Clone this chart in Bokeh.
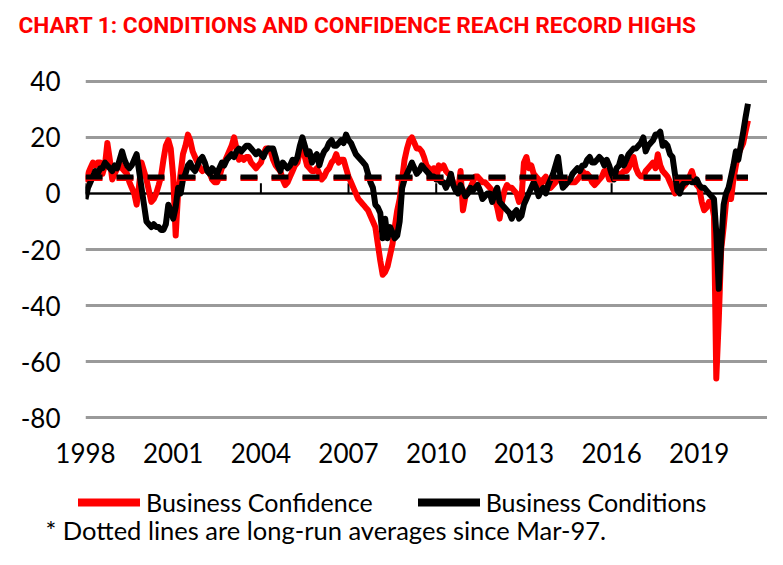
import pandas as pd
from bokeh.plotting import figure
from bokeh.layouts import column
from bokeh.models import (Range1d, FixedTicker, DatetimeTickFormatter, Title,
                          Legend, LegendItem, Span, Label)
from bokeh.embed import file_html
from bokeh.resources import INLINE

# ---------------- data ----------------
start_month = "1998-08-01"          # first monthly observation
x_end = "2021-12-01"                # right edge of the plot area

# NAB Business Conditions (net balance), monthly from Aug-1998 to Apr-2021
conditions = [
    -2, 2, 4, 6, 8,                                  # 1998 Aug-Dec
    7, 9, 9, 11, 10, 9, 8, 10, 9, 12, 15, 12,        # 1999
    10, 9, 10, 12, 14, 8, 2, -4, -10, -11, -12, -11,  # 2000
    -12, -12, -13, -13, -11, -4, -6, -9, -5, 2, 0, 5,  # 2001
    7, 10, 11, 9, 8, 10, 12, 13, 11, 8, 7, 9,        # 2002
    8, 7, 9, 11, 10, 12, 13, 14, 13, 15, 16, 15,     # 2003
    16, 17, 17, 16, 15, 14, 15, 14, 13, 15, 16, 16,  # 2004
    16, 13, 10, 8, 11, 10, 9, 10, 12, 11, 13, 17,    # 2005
    20, 17, 14, 15, 11, 13, 14, 10, 13, 15, 16, 18,  # 2006
    19, 17, 17, 18, 19, 18, 21, 19, 18, 16, 14, 13,  # 2007
    12, 11, 10, 7, 4, 2, -4, -5, -7, -16, -9, -16,   # 2008
    -12, -14, -16, -15, -10, 2, 5, 7, 9, 11, 9, 7,   # 2009
    8, 10, 9, 8, 7, 6, 6, 5, 5, 4, 4, 2,             # 2010
    4, 7, 3, 1, 0, 3, 1, -1, 0, 2, 1, 2,             # 2011
    3, 1, -2, -1, 0, 0, -3, 0, 2, -3, -4, -5,        # 2012
    -6, -7, -9, -7, -6, -9, -8, -4, -2, 0, 2, 4,     # 2013
    2, -1, 1, 2, 0, 3, 5, 7, 10, 13, 6, 2,           # 2014
    3, 4, 5, 7, 8, 9, 8, 10, 10, 12, 13, 11,         # 2015
    11, 12, 13, 12, 10, 12, 10, 7, 5, 9, 10, 13,     # 2016
    10, 12, 14, 15, 16, 16, 17, 18, 20, 15, 17, 18,  # 2017
    19, 21, 21, 22, 17, 18, 17, 14, 13, 7, 1, 0,     # 2018
    3, 4, 4, 5, 4, 4, 5, 3, 2, 2, 1, 0,              # 2019
    -1, -2, -14, -34, -18, -4, 0, 2, 6, 10, 15, 12,  # 2020
    17, 22, 27, 32,                                  # 2021 Jan-Apr
]

# NAB Business Confidence (net balance), same months
confidence = [
    4, 7, 9, 11, 10,                                 # 1998 Aug-Dec
    11, 11, 7, 10, 18, 12, 5, 7, 9, 11, 9, 8,        # 1999
    7, 4, 2, 0, -4, 3, 11, 8, 5, 1, -3, -2,          # 2000
    0, 3, 6, 12, 17, 19, 16, 6, -15, 0, 7, 14,       # 2001
    17, 21, 19, 15, 13, 11, 9, 8, 9, 8, 7, 5,        # 2002
    4, 4, 6, 9, 11, 13, 15, 17, 20, 16, 12, 13,      # 2003
    12, 13, 13, 11, 10, 9, 10, 11, 14, 16, 16, 15,   # 2004
    12, 10, 9, 8, 5, 3, 4, 6, 8, 10, 11, 15,         # 2005
    16, 13, 10, 9, 8, 8, 9, 7, 5, 6, 8, 9,           # 2006
    11, 12, 14, 11, 12, 12, 9, 6, 4, 2, 0, -2,       # 2007
    -3, -4, -5, -6, -8, -10, -12, -18, -24, -29, -28, -26,  # 2008
    -22, -18, -12, -6, -2, 5, 12, 16, 19, 20, 18, 16,  # 2009
    16, 15, 13, 10, 9, 6, 9, 5, 10, 9, 10, 8,        # 2010
    7, 6, 4, 2, 1, 8, -6, -1, 1, 2, 4, 6,            # 2011
    6, 5, 4, 4, 3, 2, 1, -2, -5, -9, -3, 1,          # 2012
    3, 2, 2, 1, 0, -3, -2, 11, 13, 9, 10, 7,         # 2013
    6, 5, 3, 5, 6, 3, 2, 3, 4, 5, 6, 4,              # 2014
    3, 5, 4, 4, 4, 5, 6, 8, 7, 7, 6, 4,              # 2015
    3, 4, 5, 6, 8, 8, 5, 5, 6, 7, 7, 7,              # 2016
    8, 8, 9, 11, 13, 9, 7, 6, 6, 8, 9, 10,           # 2017
    11, 9, 14, 10, 8, 7, 6, 4, 2, 0, 2, 4,           # 2018
    2, 3, 4, 6, 8, 5, 3, 2, -3, -6, -5, -3,          # 2019
    -3, -8, -66, -45, -20, -12, -3, 1, -2, 5, 10, 14,  # 2020
    16, 18, 22, 26,                                  # 2021 Jan-Apr
]

# long-run averages (dotted lines)
confidence_avg = 5.3
conditions_avg = 5.9

# axis ticks
y_ticks = [-80, -60, -40, -20, 0, 20, 40]
y_tick_labels = ["-80", "-60", "-40", "-20", "0", "20", "40"]
x_tick_dates = ["1998-08-01", "2001-08-01", "2004-08-01", "2007-08-01",
                "2010-08-01", "2013-08-01", "2016-08-01", "2019-08-01"]

title_text = "CHART 1: CONDITIONS AND CONFIDENCE REACH RECORD HIGHS"
footnote_text = "* Dotted lines are long-run  averages since Mar-97."
series_names = ["Business Confidence", "Business Conditions"]

# ---------------- build ----------------
dates = pd.date_range(start_month, periods=len(conditions), freq="MS")
tick_ts = [pd.Timestamp(d) for d in x_tick_dates]
tick_ms = [t.value / 1e6 for t in tick_ts]

RED = "#FF0000"
BLACK = "#000000"
FONT = "Lato"
W = 767


def plain(fig):
    fig.outline_line_color = None
    fig.background_fill_color = "white"
    fig.border_fill_color = "white"
    if hasattr(fig, "frame_align"):
        fig.frame_align = False


# ---- header strip with the chart title ----
h = figure(width=W, height=52, output_backend="svg", toolbar_location=None,
           x_axis_location=None, y_axis_location=None,
           x_range=Range1d(0, 1), y_range=Range1d(0, 1), min_border=0)
plain(h)
h.grid.visible = False
h.title = Title(text=title_text, align="left", offset=18, standoff=24,
                vertical_align="top", text_color=RED, text_font="Roboto",
                text_font_style="bold", text_font_size="22.7px")

# ---- main chart ----
p = figure(width=W, height=423, x_axis_type="datetime",
           output_backend="svg", toolbar_location=None,
           x_range=Range1d(pd.Timestamp(start_month), pd.Timestamp(x_end)),
           y_range=Range1d(-81, 41),
           min_border_left=85, min_border_right=0,
           min_border_top=26, min_border_bottom=55)
plain(p)

# y axis
p.yaxis.ticker = FixedTicker(ticks=y_ticks)
p.yaxis.major_label_overrides = dict(zip(y_ticks, y_tick_labels))
p.yaxis.axis_line_color = None
p.yaxis.major_tick_line_color = None
p.yaxis.minor_tick_line_color = None
p.yaxis.major_tick_out = 0
p.yaxis.major_tick_in = 0
p.yaxis.major_label_standoff = 25
p.yaxis.major_label_text_font = FONT
p.yaxis.major_label_text_font_size = "26px"
p.yaxis.major_label_text_color = BLACK

# x axis
p.xaxis.ticker = FixedTicker(ticks=tick_ms)
p.xaxis.formatter = DatetimeTickFormatter(years="%Y", months="%Y", days="%Y",
                                          hours="%Y", hourmin="%Y")
p.xaxis.axis_line_color = None
p.xaxis.major_tick_line_color = None
p.xaxis.minor_tick_line_color = None
p.xaxis.major_tick_out = 0
p.xaxis.major_tick_in = 0
p.xaxis.major_label_standoff = 22
p.xaxis.major_label_text_font = FONT
p.xaxis.major_label_text_font_size = "26px"
p.xaxis.major_label_text_color = BLACK

p.xgrid.visible = False
p.ygrid.grid_line_color = "#9a9a9a"
p.ygrid.grid_line_width = 3

# zero line with tick marks
p.add_layout(Span(location=0, dimension="width", line_color=BLACK,
                  line_width=2, level="underlay"))
p.segment(x0=tick_ts, y0=[0] * len(tick_ts), x1=tick_ts, y1=[3.6] * len(tick_ts),
          line_color=BLACK, line_width=2)

# series
r_conf = p.line(dates, confidence, line_color=RED, line_width=6,
                line_join="round")
r_cond = p.line(dates, conditions, line_color=BLACK, line_width=6,
                line_join="round")

# long-run averages
p.line([dates[0], dates[-1]], [confidence_avg, confidence_avg],
       line_color=RED, line_width=5, line_dash="17 14")
p.line([dates[0], dates[-1]], [conditions_avg, conditions_avg],
       line_color=BLACK, line_width=5, line_dash="17 14")

# ---- legend + footnote strip ----
q = figure(width=W, height=74, output_backend="svg", toolbar_location=None,
           x_axis_location=None, y_axis_location=None,
           x_range=Range1d(0, 1), y_range=Range1d(0, 1), min_border=0)
plain(q)
q.grid.visible = False

nan = float("nan")
k_conf = q.line(x=[nan], y=[nan], line_color=RED, line_width=8, line_cap="round")
k_cond = q.line(x=[nan], y=[nan], line_color=BLACK, line_width=8, line_cap="round")

legend = Legend(items=[LegendItem(label=series_names[0], renderers=[k_conf]),
                       LegendItem(label=series_names[1], renderers=[k_cond])],
                orientation="horizontal", location=(78, 32),
                glyph_width=62, glyph_height=30, label_height=30,
                label_standoff=6, spacing=45, padding=0, margin=0,
                border_line_color=None, background_fill_alpha=0,
                label_text_font=FONT, label_text_font_size="25px",
                label_text_color=BLACK)
q.add_layout(legend)

q.add_layout(Label(x=45, y=5, x_units="screen", y_units="screen",
                   text=footnote_text, text_color=BLACK,
                   text_font=FONT, text_font_size="25.5px"))

open("out.html", "w").write(file_html(column(h, p, q), INLINE))
